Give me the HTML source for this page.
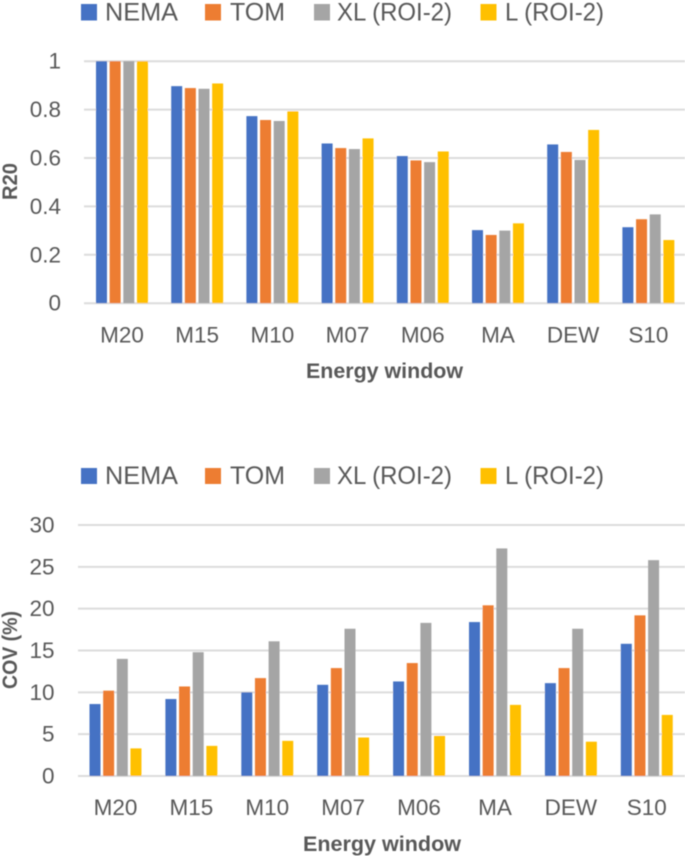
<!DOCTYPE html>
<html>
<head>
<meta charset="utf-8">
<style>
html,body{margin:0;padding:0;background:#fff;width:685px;height:856px;overflow:hidden}
svg{display:block;font-family:"Liberation Sans",sans-serif}
.lg{font-size:25px;fill:#595959}
.tick{font-size:22.5px;fill:#595959}
.title{font-size:21.5px;font-weight:bold;fill:#595959}
</style>
</head>
<body>
<svg id="root" width="685" height="856" viewBox="0 0 685 856">
  <defs><filter id="soft" x="-2%" y="-2%" width="104%" height="104%"><feGaussianBlur stdDeviation="0.45"/></filter></defs>
  <g id="all" filter="url(#soft)">
    <g>
      <rect x="81" y="4" width="16" height="16.5" fill="#4472c4"/>
      <text class="lg" x="105" y="20.5" textLength="73" lengthAdjust="spacingAndGlyphs">NEMA</text>
      <rect x="205" y="4" width="16" height="16.5" fill="#ed7d31"/>
      <text class="lg" x="230" y="20.5" textLength="55" lengthAdjust="spacingAndGlyphs">TOM</text>
      <rect x="314" y="4" width="16" height="16.5" fill="#a5a5a5"/>
      <text class="lg" x="337" y="20.5" textLength="115" lengthAdjust="spacingAndGlyphs">XL (ROI-2)</text>
      <rect x="480.500" y="4" width="16" height="16.5" fill="#ffc000"/>
      <text class="lg" x="505" y="20.5" textLength="99" lengthAdjust="spacingAndGlyphs">L (ROI-2)</text>
    </g>
    <g>
      <rect x="81" y="468" width="16" height="16" fill="#4472c4"/>
      <text class="lg" x="105" y="484" textLength="73" lengthAdjust="spacingAndGlyphs">NEMA</text>
      <rect x="205" y="468" width="16" height="16" fill="#ed7d31"/>
      <text class="lg" x="230" y="484" textLength="55" lengthAdjust="spacingAndGlyphs">TOM</text>
      <rect x="314" y="468" width="16" height="16" fill="#a5a5a5"/>
      <text class="lg" x="337" y="484" textLength="115" lengthAdjust="spacingAndGlyphs">XL (ROI-2)</text>
      <rect x="480.500" y="468" width="16" height="16" fill="#ffc000"/>
      <text class="lg" x="505" y="484" textLength="99" lengthAdjust="spacingAndGlyphs">L (ROI-2)</text>
    </g>
    <text class="title" x="306" y="378" textLength="157" lengthAdjust="spacingAndGlyphs">Energy window</text>
    <text class="title" x="303" y="851" textLength="158" lengthAdjust="spacingAndGlyphs">Energy window</text>
    <text class="title" transform="translate(17,200) rotate(-90)" x="0" y="0" textLength="37" lengthAdjust="spacingAndGlyphs">R20</text>
    <text class="title" transform="translate(17,689) rotate(-90)" x="0" y="0" textLength="78" lengthAdjust="spacingAndGlyphs">COV (%)</text>
  </g>
</svg>
<script>
const categories = ["M20","M15","M10","M07","M06","MA","DEW","S10"];
const seriesNames = ["nema","tom","xl","l"];
const seriesColors = ["#4472c4","#ed7d31","#a5a5a5","#ffc000"];

const r20Ticks = [0,0.2,0.4,0.6,0.8,1];
const r20Nema = [1,0.897,0.773,0.66,0.608,0.302,0.656,0.314];
const r20Tom = [1,0.889,0.757,0.641,0.59,0.282,0.625,0.347];
const r20Xl = [1,0.886,0.753,0.637,0.583,0.3,0.592,0.367];
const r20L = [1,0.908,0.793,0.681,0.627,0.33,0.716,0.261];

const covTicks = [0,5,10,15,20,25,30];
const covNema = [8.6,9.2,10,10.9,11.3,18.4,11.1,15.8];
const covTom = [10.2,10.7,11.7,12.9,13.5,20.4,12.9,19.2];
const covXl = [14,14.8,16.1,17.6,18.3,27.2,17.6,25.8];
const covL = [3.3,3.6,4.2,4.6,4.8,8.5,4.1,7.3];

const NS = "http://www.w3.org/2000/svg";
const all = document.getElementById("all");

function make(tag, parent, attrs, content){
  const el = document.createElementNS(NS, tag);
  for (const k in attrs) el.setAttribute(k, attrs[k]);
  if (content !== undefined) el.textContent = content;
  parent.appendChild(el);
  return el;
}

function drawChart(cfg){
  const yScale = v => cfg.y0 - (v / cfg.max) * (cfg.y0 - cfg.yTop);
  const groupX = i => cfg.x0 + i * cfg.pitch;
  const g = make("g", all, {});
  
  

  cfg.ticks.forEach(t => {
    const line = make("line", g, {x1:cfg.gridX, x2:685, y1:yScale(t), y2:yScale(t), stroke:"#dcdcdc", "stroke-width":2});
    
    
    const label = make("text", g, {class:"tick", x:cfg.tickX, y:yScale(t)+7.5, "text-anchor":"end"}, String(t));
    
    
  });

  cfg.series.forEach((vals, s) => {
    vals.forEach((v, i) => {
      const top = yScale(v);
      const bar = make("rect", g, {x:groupX(i)+s*cfg.step, y:top, width:cfg.barW, height:cfg.y0-top, fill:seriesColors[s]});
      
      
    });
  });

  categories.forEach((c, i) => {
    const cx = groupX(i) + (3*cfg.step + cfg.barW)/2;
    const label = make("text", g, {class:"tick", x:cx, y:cfg.catY, "text-anchor":"middle"}, c);
    
    
  });
}

drawChart({name:"r20", ticks:r20Ticks, max:1, y0:303.2, yTop:61.2, gridX:84, tickX:61,
  x0:96, pitch:75.2, step:13.65, barW:11, catY:342.5, series:[r20Nema,r20Tom,r20Xl,r20L]});
drawChart({name:"cov", ticks:covTicks, max:30, y0:776, yTop:525, gridX:78, tickX:54.500,
  x0:89.5, pitch:75.9, step:13.65, barW:11, catY:815, series:[covNema,covTom,covXl,covL]});
</script>
</body>
</html>
